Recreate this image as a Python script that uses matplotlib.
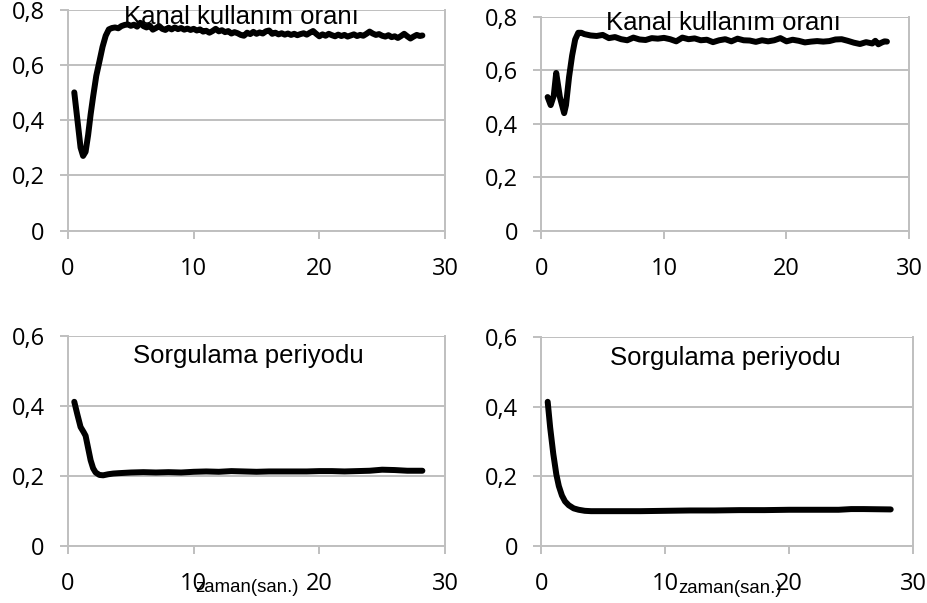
import numpy as np
import matplotlib
matplotlib.use("Agg")
import matplotlib.pyplot as plt

# ---------------- data ----------------
x_ticks = [0, 10, 20, 30]
y_ticks_top = [0, 0.2, 0.4, 0.6, 0.8]
y_ticks_bottom = [0, 0.2, 0.4, 0.6]
y_labels_top = ["0", "0,2", "0,4", "0,6", "0,8"]
y_labels_bottom = ["0", "0,2", "0,4", "0,6"]

title_top = "Kanal kullanım oranı"
title_bottom = "Sorgulama periyodu"
xlabel = "zaman(san.)"

# top-left: channel utilisation (scenario 1)
tl_t_early = [0.5, 0.75, 1.0, 1.2, 1.4, 1.6, 1.8, 2.0, 2.25, 2.5, 2.75, 3.0, 3.25]
tl_v_early = [0.500, 0.400, 0.300, 0.270, 0.285, 0.345, 0.420, 0.485, 0.560, 0.612, 0.665, 0.705, 0.728]
tl_v_plateau = [
    0.733, 0.735, 0.732, 0.740, 0.744, 0.746, 0.741, 0.745, 0.738, 0.752,
    0.740, 0.735, 0.742, 0.727, 0.733, 0.740, 0.730, 0.726, 0.734, 0.728,
    0.735, 0.729, 0.733, 0.727, 0.731, 0.726, 0.730, 0.724, 0.728, 0.720,
    0.723, 0.716, 0.722, 0.730, 0.721, 0.725, 0.718, 0.722, 0.713, 0.718,
    0.714, 0.708, 0.705, 0.716, 0.711, 0.719, 0.712, 0.717, 0.713, 0.721,
    0.724, 0.712, 0.716, 0.710, 0.714, 0.709, 0.713, 0.708, 0.712, 0.707,
    0.711, 0.714, 0.709, 0.716, 0.722, 0.712, 0.703, 0.710, 0.705, 0.712,
    0.707, 0.703, 0.709, 0.704, 0.708, 0.702, 0.706, 0.710, 0.704, 0.708,
    0.705, 0.712, 0.720, 0.713, 0.708, 0.711, 0.705, 0.702, 0.707, 0.700,
    0.703, 0.697, 0.704, 0.712, 0.703, 0.695, 0.702, 0.708, 0.704, 0.706,
]
tl_t_plateau_start, tl_t_step = 3.5, 0.25

# top-right: channel utilisation (scenario 2)
tr_t = [0.5, 0.75, 1.0, 1.2, 1.5, 1.85, 2.0, 2.25, 2.5, 2.75, 3.0, 3.25, 3.5,
        4.0, 4.5, 5.0, 5.5, 6.0, 6.5, 7.0, 7.5, 8.0, 8.5, 9.0, 9.5, 10.0,
        10.5, 11.0, 11.5, 12.0, 12.5, 13.0, 13.5, 14.0, 14.5, 15.0, 15.5,
        16.0, 16.5, 17.0, 17.5, 18.0, 18.5, 19.0, 19.5, 20.0, 20.5, 21.0,
        21.5, 22.0, 22.5, 23.0, 23.5, 24.0, 24.5, 25.0, 25.5, 26.0, 26.5,
        27.0, 27.25, 27.5, 27.75, 28.0, 28.2]
tr_v = [0.500, 0.470, 0.505, 0.590, 0.500, 0.440, 0.470, 0.575, 0.655, 0.715, 0.740, 0.740, 0.735,
        0.730, 0.728, 0.732, 0.720, 0.724, 0.716, 0.712, 0.722, 0.715, 0.713, 0.720, 0.718, 0.721,
        0.716, 0.708, 0.722, 0.716, 0.719, 0.712, 0.714, 0.705, 0.712, 0.716, 0.708,
        0.718, 0.712, 0.711, 0.706, 0.712, 0.708, 0.712, 0.720, 0.708, 0.714, 0.710,
        0.704, 0.707, 0.709, 0.707, 0.709, 0.715, 0.716, 0.710, 0.703, 0.698, 0.705,
        0.700, 0.710, 0.697, 0.703, 0.708, 0.707]

# bottom-left: polling period (scenario 1)
bl_t = [0.5, 0.75, 1.0, 1.25, 1.4, 1.6, 1.8, 2.0, 2.2, 2.5, 2.8, 3.2, 3.6, 4.0,
        5, 6, 7, 8, 9, 10, 11, 12, 13, 14, 15, 16, 17, 18, 19, 20, 21, 22,
        23, 24, 25, 26, 27, 28.2]
bl_v = [0.412, 0.375, 0.340, 0.325, 0.315, 0.280, 0.245, 0.222, 0.210, 0.203, 0.202, 0.205, 0.207, 0.208,
        0.210, 0.211, 0.210, 0.211, 0.210, 0.212, 0.213, 0.212, 0.214, 0.213, 0.212, 0.213, 0.213, 0.213,
        0.213, 0.214, 0.214, 0.213, 0.214, 0.215, 0.218, 0.217, 0.215, 0.215]

# bottom-right: polling period (scenario 2)
br_t = [0.5, 0.7, 0.95, 1.2, 1.4, 1.65, 1.9, 2.2, 2.6, 3.0, 3.5, 4.0, 5, 6, 8, 10,
        12, 14, 16, 18, 20, 22, 24, 25, 26, 28.2]
br_v = [0.414, 0.340, 0.265, 0.205, 0.172, 0.145, 0.128, 0.117, 0.108, 0.104, 0.101, 0.100,
        0.100, 0.100, 0.100, 0.101, 0.102, 0.102, 0.103, 0.103, 0.104, 0.104, 0.104, 0.106,
        0.106, 0.105]

# ---------------- figure ----------------
W, H = 928, 603
DPI = 100
fig = plt.figure(figsize=(W / DPI, H / DPI), dpi=DPI)

GRID = "#bfbfbf"
TICK_FONT = "Open Sans"
TEXT_FONT = "Liberation Sans"


def px_axes(left, right, top, bottom):
    return fig.add_axes([left / W, 1 - bottom / H, (right - left) / W, (bottom - top) / H])


def style(ax, ymax, yticks, ylabels):
    ax.set_xlim(0, 30)
    ax.set_ylim(0, ymax)
    ax.set_xticks(x_ticks)
    ax.set_xticklabels([str(v) for v in x_ticks])
    ax.set_yticks(yticks)
    ax.set_yticklabels(ylabels)
    ax.grid(axis="y", color=GRID, linewidth=1.4)
    ax.set_axisbelow(True)
    for s in ["left", "bottom", "right"]:
        ax.spines[s].set_color(GRID)
        ax.spines[s].set_linewidth(1.4)
    ax.spines["top"].set_visible(False)
    ax.tick_params(axis="both", direction="out", length=5.8, width=1.4, color=GRID,
                   labelsize=17, labelcolor="black")
    ax.tick_params(axis="y", pad=11)
    ax.tick_params(axis="x", pad=13)
    for lab in ax.get_xticklabels() + ax.get_yticklabels():
        lab.set_fontfamily(TICK_FONT)


LW = 4.3
line_kw = dict(color="black", linewidth=LW, solid_capstyle="round", solid_joinstyle="round")

# top-left
ax1 = px_axes(68, 445, 9.5, 230.5)
style(ax1, 0.8, y_ticks_top, y_labels_top)
tl_t_plateau = tl_t_plateau_start + tl_t_step * np.arange(len(tl_v_plateau))
tl_t_plateau[-1] = 28.2
ax1.plot(list(tl_t_early) + list(tl_t_plateau), tl_v_early + tl_v_plateau, **line_kw)

# top-right
ax2 = px_axes(541.5, 909, 16.7, 231)
style(ax2, 0.8, y_ticks_top, y_labels_top)
ax2.plot(tr_t, tr_v, **line_kw)

# bottom-left
ax3 = px_axes(68, 445, 336, 546)
style(ax3, 0.6, y_ticks_bottom, y_labels_bottom)
ax3.plot(bl_t, bl_v, **line_kw)

# bottom-right
ax4 = px_axes(541.5, 913, 337, 546)
style(ax4, 0.6, y_ticks_bottom, y_labels_bottom)
ax4.plot(br_t, br_v, **line_kw)


def ftext(x, y, s, size):
    fig.text(x / W, 1 - y / H, s, ha="center", va="baseline", fontsize=size,
             family=TEXT_FONT, color="black")


ftext(241.7, 23.5, title_top, 18.5)
ftext(723.2, 30.0, title_top, 18.5)
ftext(248.3, 363.3, title_bottom, 18.5)
ftext(725.2, 365.0, title_bottom, 18.5)
ftext(246.7, 592.5, xlabel, 13.4)
ftext(729.8, 593.0, xlabel, 13.4)

fig.savefig("out.png", dpi=DPI)
